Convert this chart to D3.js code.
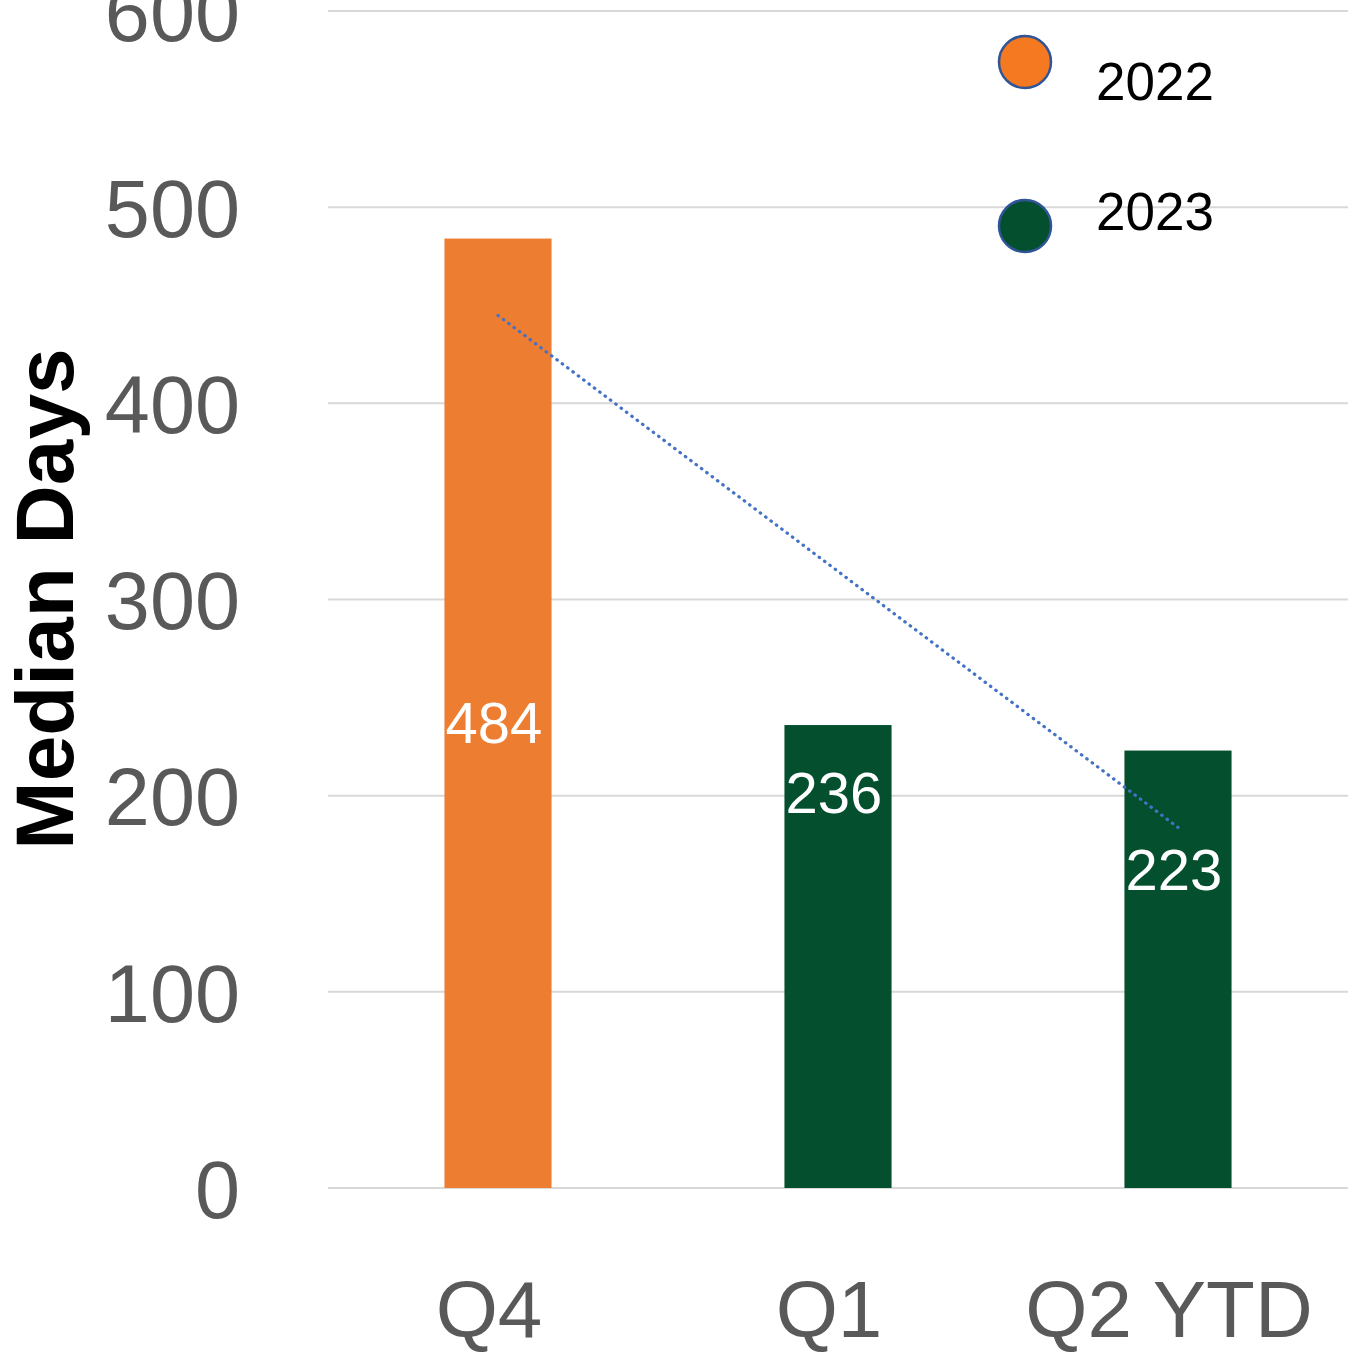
<!DOCTYPE html>
<html><head><meta charset="utf-8">
<script src="https://cdn.jsdelivr.net/npm/d3@7"></script>
<style>html,body{margin:0;padding:0;background:#fff;}svg{display:block;}</style>
</head><body>
<script>
const categories = ["Q4", "Q1", "Q2 YTD"];
const values = [484, 236, 223];
const years = ["2022", "2023", "2023"];
const legendYears = ["2022", "2023"];
const yTicks = [0, 100, 200, 300, 400, 500, 600];
const labelAnchor = [227, 191, 152];

const W = 1348, H = 1369;
const svg = d3.select("body").append("svg").attr("width", W).attr("height", H);
const font = "'Liberation Sans', Arial, sans-serif";

const x = d3.scaleBand().domain(categories).range([328, 1348]).paddingInner(0.685).paddingOuter(0.3425);
const y = d3.scaleLinear().domain([0, 600]).range([1188, 11]);
const color = d3.scaleOrdinal().domain(legendYears).range(["#ED7D31", "#034F2E"]);
const legendColor = d3.scaleOrdinal().domain(legendYears).range(["#F47920", "#034F2E"]);

// gridlines
svg.append("g").selectAll("line").data(yTicks).join("line")
  .attr("x1", 328).attr("x2", 1348)
  .attr("y1", d => y(d)).attr("y2", d => y(d))
  .attr("stroke", "#D9D9D9").attr("stroke-width", 2);

// y axis labels
const yAxis = d3.axisLeft(y).tickValues(yTicks).tickSize(0).tickPadding(0);
const ya = svg.append("g").attr("transform", "translate(240,0)").call(yAxis);
ya.select(".domain").remove();
ya.selectAll("text").attr("font-family", font).attr("font-size", 81).attr("fill", "#595959").attr("dy", "0.36em");

// bars
const data = categories.map((c, i) => ({c, v: values[i], yr: years[i], la: labelAnchor[i]}));
svg.append("g").selectAll("rect").data(data).join("rect")
  .attr("x", d => x(d.c)).attr("width", x.bandwidth())
  .attr("y", d => y(d.v)).attr("height", d => y(0) - y(d.v))
  .attr("fill", d => color(d.yr));

// data labels
svg.append("g").selectAll("text").data(data).join("text")
  .attr("x", d => x(d.c) + x.bandwidth() / 2 - 4).attr("y", d => y(d.la))
  .attr("text-anchor", "middle").attr("font-family", font).attr("font-size", 58)
  .attr("fill", "#fff").text(d => d.v);

// linear trendline
const n = values.length;
const xs = d3.range(n);
const mx = d3.mean(xs), my = d3.mean(values);
const slope = d3.sum(xs.map((xi, i) => (xi - mx) * (values[i] - my))) / d3.sum(xs.map(xi => (xi - mx) ** 2));
const intercept = my - slope * mx;
const trendPts = [0, n - 1].map(i => [x(categories[i]) + x.bandwidth() / 2, y(intercept + slope * i)]);
svg.append("path").attr("d", d3.line()(trendPts))
  .attr("fill", "none").attr("stroke", "#4472C4").attr("stroke-width", 3.2)
  .attr("stroke-linecap", "round").attr("stroke-dasharray", "0.5,6.2");

// x axis labels
const xAxis = d3.axisBottom(x).tickSize(0).tickPadding(0);
const xa = svg.append("g").attr("transform", "translate(-9,1337)").call(xAxis);
xa.select(".domain").remove();
xa.selectAll("text").attr("font-family", font).attr("font-size", 80).attr("fill", "#595959").attr("dy", 0);

// y title
svg.append("text").attr("transform", "translate(73,599) rotate(-90)")
  .attr("text-anchor", "middle").attr("font-family", font).attr("font-weight", "bold")
  .attr("font-size", 82).attr("fill", "#000").text("Median Days");

// legend
const leg = svg.append("g").selectAll("g").data(legendYears).join("g")
  .attr("transform", (d, i) => `translate(0,${i * 164})`);
leg.append("circle").attr("cx", 1025).attr("cy", 62).attr("r", 26)
  .attr("fill", d => legendColor(d)).attr("stroke", "#2F5597").attr("stroke-width", 2.5);
leg.append("text").attr("x", 1096).attr("y", (d, i) => i === 0 ? 100 : 66)
  .attr("font-family", font).attr("font-size", 53).attr("fill", "#000").text(d => d);
</script>
</body></html>
